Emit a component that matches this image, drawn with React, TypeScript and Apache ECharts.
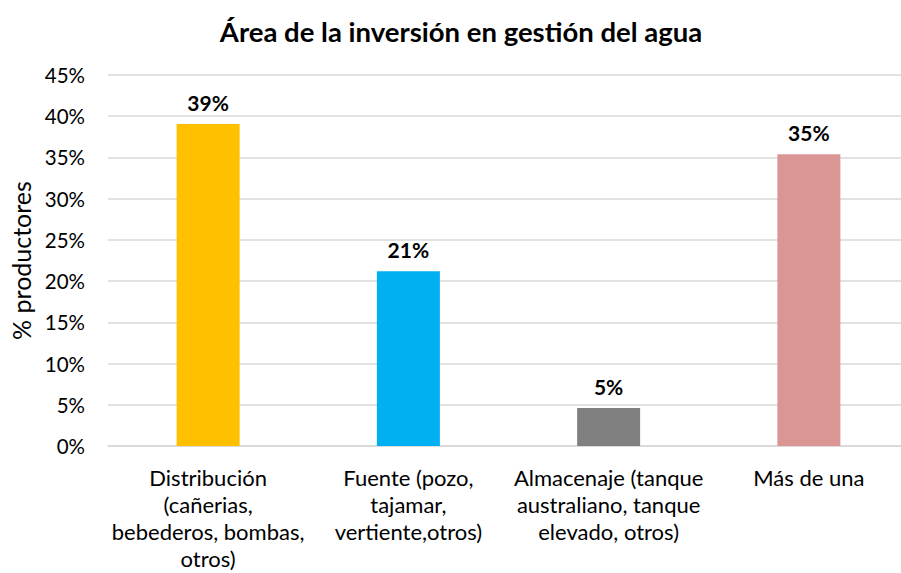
import React, { useEffect, useRef } from "react";
import * as echarts from "echarts";

const categories = [
  "Distribución\n(cañerias,\nbebederos, bombas,\notros)",
  "Fuente (pozo,\ntajamar,\nvertiente,otros)",
  "Almacenaje (tanque\naustraliano, tanque\nelevado, otros)",
  "Más de una",
];
const values = [39.05, 21.2, 4.6, 35.4];
const barColors = ["#FFC000", "#00B0F0", "#808080", "#DA9694"];
const yTicks = [0, 5, 10, 15, 20, 25, 30, 35, 40, 45];

const FONT = "Lato, 'Open Sans', sans-serif";

export default function App() {
  const ref = useRef<HTMLDivElement>(null);
  useEffect(() => {
    const chart = echarts.init(ref.current!, null, { renderer: "svg" });
    chart.setOption({
      animation: false,
      backgroundColor: "#ffffff",
      title: {
        text: "Área de la inversión en gestión del agua",
        left: 456,
        textAlign: "center",
        top: 12,
        textStyle: { fontFamily: FONT, fontSize: 27.5, fontWeight: "bold", color: "#000" },
      },
      grid: { left: 108, right: 0, top: 75, bottom: 127, containLabel: false, outerBoundsMode: "none" },
      xAxis: {
        type: "category",
        data: categories,
        axisLine: { show: true, lineStyle: { color: "#d9d9d9", width: 1.5 } },
        axisTick: { show: false },
        axisLabel: {
          interval: 0,
          margin: 18,
          fontFamily: FONT,
          fontSize: 22,
          color: "#000",
          lineHeight: 27,
          align: "center",
        },
      },
      yAxis: {
        type: "value",
        min: 0,
        max: yTicks[yTicks.length - 1],
        interval: 5,
        name: "% productores",
        nameLocation: "middle",
        nameGap: 70,
        nameTextStyle: { fontFamily: FONT, fontSize: 25, color: "#000" },
        axisLine: { show: false },
        axisTick: { show: false },
        splitLine: { lineStyle: { color: "#d9d9d9", width: 1.5 } },
        axisLabel: {
          margin: 23,
          fontFamily: FONT,
          fontSize: 20.5,
          color: "#000",
          formatter: (v: number) => `${v}%`,
        },
      },
      series: [
        {
          type: "bar",
          barWidth: 63,
          data: values.map((v, i) => ({ value: v, itemStyle: { color: barColors[i] } })),
          label: {
            show: true,
            position: "top",
            distance: 11,
            fontFamily: FONT,
            fontSize: 21,
            fontWeight: "bold",
            color: "#000",
            formatter: (p: any) => `${Math.round(p.value)}%`,
          },
        },
      ],
    });
    return () => chart.dispose();
  }, []);
  return (
    <div
      style={{
        position: "absolute",
        left: 0,
        top: 0,
        width: 901,
        height: 573,
        overflow: "hidden",
        background: "#fff",
      }}
    >
      <div ref={ref} style={{ width: 909, height: 573 }} />
    </div>
  );
}
